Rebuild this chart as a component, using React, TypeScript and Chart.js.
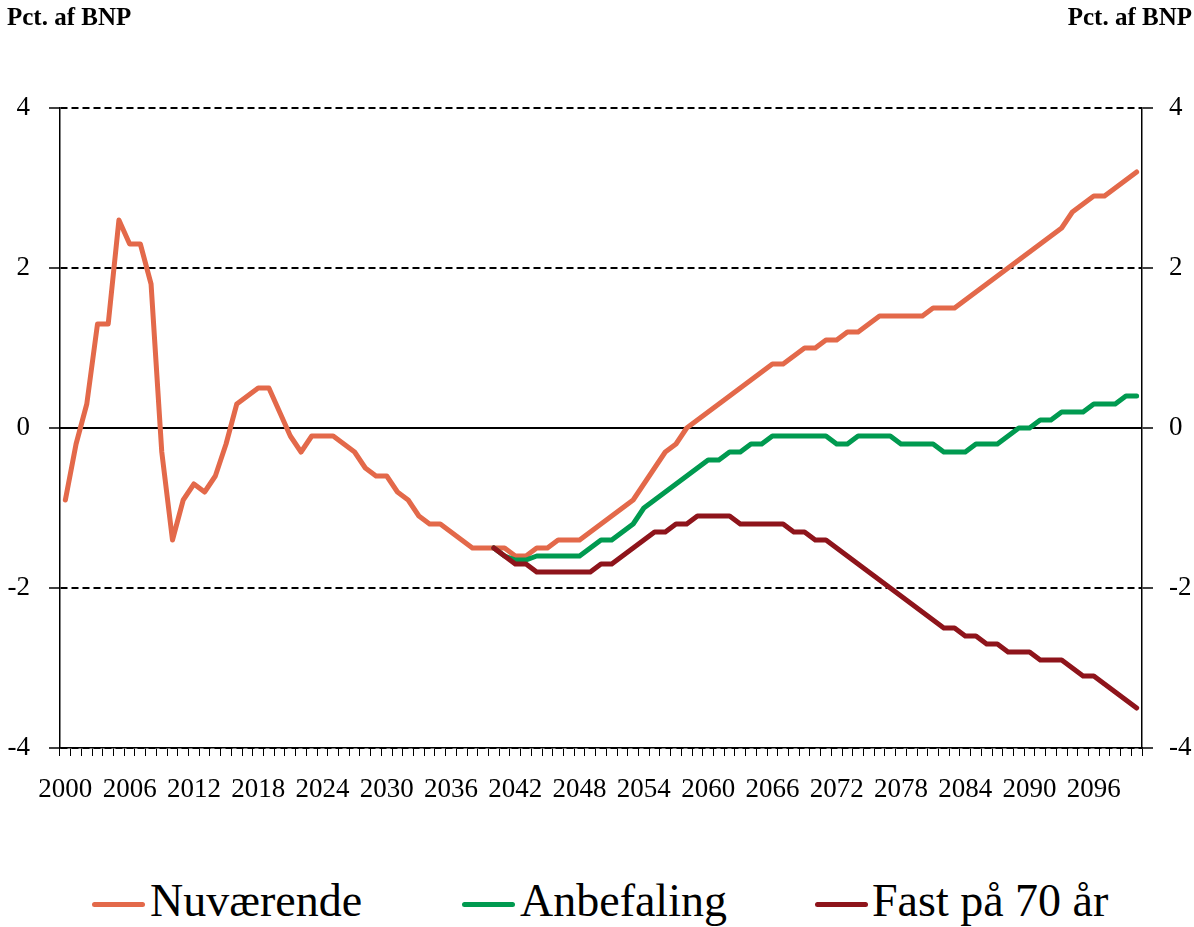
import React, { useEffect, useRef } from "react";
import { Chart, registerables } from "chart.js";

Chart.register(...registerables);

const years = [
  "2000","2001","2002","2003","2004","2005","2006","2007","2008","2009",
  "2010","2011","2012","2013","2014","2015","2016","2017","2018","2019",
  "2020","2021","2022","2023","2024","2025","2026","2027","2028","2029",
  "2030","2031","2032","2033","2034","2035","2036","2037","2038","2039",
  "2040","2041","2042","2043","2044","2045","2046","2047","2048","2049",
  "2050","2051","2052","2053","2054","2055","2056","2057","2058","2059",
  "2060","2061","2062","2063","2064","2065","2066","2067","2068","2069",
  "2070","2071","2072","2073","2074","2075","2076","2077","2078","2079",
  "2080","2081","2082","2083","2084","2085","2086","2087","2088","2089",
  "2090","2091","2092","2093","2094","2095","2096","2097","2098","2099",
  "2100",
];

const xTickLabels = ["2000","2006","2012","2018","2024","2030","2036","2042","2048","2054","2060","2066","2072","2078","2084","2090","2096"];
const yTicks = [-4, -2, 0, 2, 4];

const nuvaerende = [
  -0.9, -0.2, 0.3, 1.3, 1.3, 2.6, 2.3, 2.3, 1.8, -0.3,
  -1.4, -0.9, -0.7, -0.8, -0.6, -0.2, 0.3, 0.4, 0.5, 0.5,
  0.2, -0.1, -0.3, -0.1, -0.1, -0.1, -0.2, -0.3, -0.5, -0.6,
  -0.6, -0.8, -0.9, -1.1, -1.2, -1.2, -1.3, -1.4, -1.5, -1.5,
  -1.5, -1.5, -1.6, -1.6, -1.5, -1.5, -1.4, -1.4, -1.4, -1.3,
  -1.2, -1.1, -1.0, -0.9, -0.7, -0.5, -0.3, -0.2, 0.0, 0.1,
  0.2, 0.3, 0.4, 0.5, 0.6, 0.7, 0.8, 0.8, 0.9, 1.0,
  1.0, 1.1, 1.1, 1.2, 1.2, 1.3, 1.4, 1.4, 1.4, 1.4,
  1.4, 1.5, 1.5, 1.5, 1.6, 1.7, 1.8, 1.9, 2.0, 2.1,
  2.2, 2.3, 2.4, 2.5, 2.7, 2.8, 2.9, 2.9, 3.0, 3.1,
  3.2,
];

const anbefaling = [
  null, null, null, null, null, null, null, null, null, null,
  null, null, null, null, null, null, null, null, null, null,
  null, null, null, null, null, null, null, null, null, null,
  null, null, null, null, null, null, null, null, null, null,
  -1.5, -1.6, -1.65, -1.65, -1.6, -1.6, -1.6, -1.6, -1.6, -1.5,
  -1.4, -1.4, -1.3, -1.2, -1.0, -0.9, -0.8, -0.7, -0.6, -0.5,
  -0.4, -0.4, -0.3, -0.3, -0.2, -0.2, -0.1, -0.1, -0.1, -0.1,
  -0.1, -0.1, -0.2, -0.2, -0.1, -0.1, -0.1, -0.1, -0.2, -0.2,
  -0.2, -0.2, -0.3, -0.3, -0.3, -0.2, -0.2, -0.2, -0.1, 0.0,
  0.0, 0.1, 0.1, 0.2, 0.2, 0.2, 0.3, 0.3, 0.3, 0.4,
  0.4,
];

const fastPaa70 = [
  null, null, null, null, null, null, null, null, null, null,
  null, null, null, null, null, null, null, null, null, null,
  null, null, null, null, null, null, null, null, null, null,
  null, null, null, null, null, null, null, null, null, null,
  -1.5, -1.6, -1.7, -1.7, -1.8, -1.8, -1.8, -1.8, -1.8, -1.8,
  -1.7, -1.7, -1.6, -1.5, -1.4, -1.3, -1.3, -1.2, -1.2, -1.1,
  -1.1, -1.1, -1.1, -1.2, -1.2, -1.2, -1.2, -1.2, -1.3, -1.3,
  -1.4, -1.4, -1.5, -1.6, -1.7, -1.8, -1.9, -2.0, -2.1, -2.2,
  -2.3, -2.4, -2.5, -2.5, -2.6, -2.6, -2.7, -2.7, -2.8, -2.8,
  -2.8, -2.9, -2.9, -2.9, -3.0, -3.1, -3.1, -3.2, -3.3, -3.4,
  -3.5,
];

const seriesNames = ["Nuværende", "Anbefaling", "Fast på 70 år"];
const seriesColors = ["#E3694A", "#009A50", "#8E141B"];
const axisTitle = "Pct. af BNP";

const FONT = '"Liberation Serif", "Times New Roman", serif';

export default function App() {
  const canvasRef = useRef<HTMLCanvasElement | null>(null);

  useEffect(() => {
    const canvas = canvasRef.current;
    if (!canvas) return;
    const tickFont = { family: FONT, size: 27 };
    const chart = new Chart(canvas, {
      type: "line",
      data: {
        labels: years,
        datasets: [
          { label: seriesNames[0], data: nuvaerende, borderColor: seriesColors[0], backgroundColor: seriesColors[0], order: 3 },
          { label: seriesNames[1], data: anbefaling, borderColor: seriesColors[1], backgroundColor: seriesColors[1], order: 2 },
          { label: seriesNames[2], data: fastPaa70, borderColor: seriesColors[2], backgroundColor: seriesColors[2], order: 1 },
        ].map((d) => ({
          ...d,
          borderWidth: 5,
          pointRadius: 0,
          pointHoverRadius: 0,
          tension: 0,
          fill: false,
          spanGaps: false,
          borderCapStyle: "round" as const,
          borderJoinStyle: "round" as const,
        })),
      },
      options: {
        responsive: false,
        animation: false,
        devicePixelRatio: 1,
        layout: { padding: { top: 108, left: 0, right: 0, bottom: 0 } },
        plugins: {
          legend: { display: false },
          title: { display: false },
          tooltip: { enabled: false },
        },
        scales: {
          x: {
            type: "category",
            offset: true,
            grid: {
              display: true,
              offset: true,
              drawOnChartArea: false,
              drawTicks: true,
              tickLength: 8,
              color: "#000",
              lineWidth: 1,
            },
            border: { display: true, color: "#000", width: 1.5 },
            ticks: {
              autoSkip: false,
              maxRotation: 0,
              minRotation: 0,
              padding: 18,
              color: "#000",
              font: tickFont,
              callback: (_v: any, i: number) => (xTickLabels.includes(years[i]) ? years[i] : ""),
            },
            afterFit: (s: any) => {
              s.height = 102;
            },
          },
          y: {
            position: "left",
            min: -4,
            max: 4,
            afterBuildTicks: (s: any) => {
              s.ticks = yTicks.map((v) => ({ value: v }));
            },
            ticks: { color: "#000", font: tickFont, padding: 19 },
            grid: {
              color: "#000",
              lineWidth: 2,
              drawTicks: true,
              tickLength: 11,
              tickBorderDash: [],
              tickWidth: 1.5,
            },
            border: { display: true, color: "#000", width: 1.5, dash: [7, 4] },
            afterFit: (s: any) => {
              s.width = 60;
            },
          },
          y2: {
            position: "right",
            min: -4,
            max: 4,
            afterBuildTicks: (s: any) => {
              s.ticks = yTicks.map((v) => ({ value: v }));
            },
            ticks: { color: "#000", font: tickFont, padding: 16 },
            grid: {
              drawOnChartArea: true,
              drawTicks: true,
              tickLength: 11,
              color: (ctx: any) => (ctx.tick && ctx.tick.value === 0 ? "#000" : "rgba(0,0,0,0)"),
              lineWidth: 2,
              tickColor: "#000",
              tickWidth: 1.5,
              tickBorderDash: [],
            },
            border: { display: true, color: "#000", width: 1.5, dash: [] },
            afterFit: (s: any) => {
              s.width = 52;
            },
          },
        },
      },
    });
    return () => chart.destroy();
  }, []);

  const legendItems = [
    { lineX: 92, textX: 150 },
    { lineX: 462, textX: 520 },
    { lineX: 815, textX: 872 },
  ];

  return (
    <div
      style={{
        position: "fixed",
        left: 0,
        top: 0,
        width: 1194,
        height: 927,
        background: "#fff",
        fontFamily: FONT,
        color: "#000",
        overflow: "hidden",
      }}
    >
      <canvas
        ref={canvasRef}
        width={1194}
        height={850}
        style={{ position: "absolute", left: 0, top: 0, width: 1194, height: 850 }}
      />
      <div style={{ position: "absolute", left: 7, top: 4, fontWeight: "bold", fontSize: 25, lineHeight: "25px", whiteSpace: "nowrap" }}>
        {axisTitle}
      </div>
      <div style={{ position: "absolute", right: 2, top: 4, fontWeight: "bold", fontSize: 25, lineHeight: "25px", whiteSpace: "nowrap" }}>
        {axisTitle}
      </div>
      {legendItems.map((it, i) => (
        <React.Fragment key={i}>
          <div
            style={{
              position: "absolute",
              left: it.lineX,
              top: 901.5,
              width: 53,
              height: 5,
              borderRadius: 2.5,
              background: seriesColors[i],
            }}
          />
          <div
            style={{
              position: "absolute",
              left: it.textX,
              top: 878,
              fontSize: 46,
              lineHeight: "46px",
              whiteSpace: "nowrap",
            }}
          >
            {seriesNames[i]}
          </div>
        </React.Fragment>
      ))}
    </div>
  );
}
